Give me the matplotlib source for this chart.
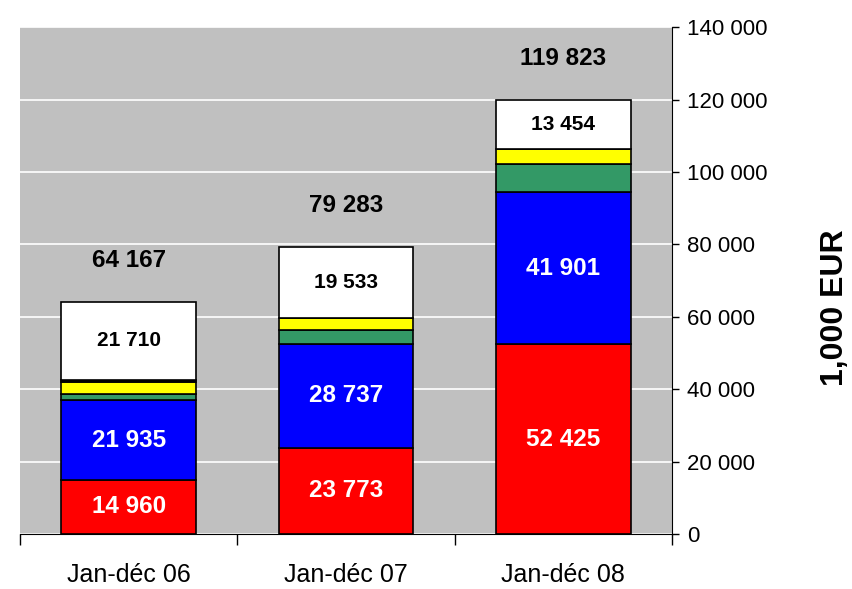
import numpy as np
import matplotlib
matplotlib.use("Agg")
import matplotlib.pyplot as plt
from matplotlib.ticker import FuncFormatter, MultipleLocator

plt.rcParams["font.family"] = ["Liberation Sans", "DejaVu Sans"]

categories = ["Jan-déc 06", "Jan-déc 07", "Jan-déc 08"]
red = [14960, 23773, 52425]
blue = [21935, 28737, 41901]
green = [1880, 3770, 7760]
yellow = [3090, 3470, 4283]
black = [592, 0, 0]
white = [21710, 19533, 13454]
totals = [64167, 79283, 119823]

layers = [(red, "#FF0000"), (blue, "#0000FF"), (green, "#339966"),
          (yellow, "#FFFF00"), (black, "#000000"), (white, "#FFFFFF")]


def fmt(v):
    return f"{v:,.0f}".replace(",", " ")


fig = plt.figure(figsize=(8.52, 5.89), dpi=100)
ax = fig.add_axes([0.0235, 0.0934, 0.765, 0.8606])
ax.set_facecolor("#C0C0C0")

x = np.arange(len(categories))
bottom = np.zeros(len(categories))
for vals, col in layers:
    v = np.array(vals, dtype=float)
    ax.bar(x, v, 0.62, bottom=bottom, color=col, edgecolor="black",
           linewidth=1.2, zorder=3)
    bottom += v

# étiquettes des segments + totaux
white_b = np.array(totals, dtype=float) - np.array(white)
for i in range(3):
    ax.text(x[i], red[i] / 2, fmt(red[i]), ha="center", va="center",
            color="white", fontsize=17.5, fontweight="bold", zorder=4)
    ax.text(x[i], red[i] + blue[i] / 2, fmt(blue[i]), ha="center", va="center",
            color="white", fontsize=17.5, fontweight="bold", zorder=4)
    ax.text(x[i], white_b[i] + white[i] / 2, fmt(white[i]), ha="center",
            va="center", color="black", fontsize=15, fontweight="bold", zorder=4)
    ax.text(x[i], totals[i] + 11500, fmt(totals[i]), ha="center", va="center",
            color="black", fontsize=17.5, fontweight="bold", zorder=4)

ax.set_xlim(-0.5, 2.5)
ax.set_ylim(0, 140000)
ax.yaxis.set_major_locator(MultipleLocator(20000))
ax.yaxis.set_major_formatter(FuncFormatter(lambda v, p: fmt(v)))
ax.yaxis.tick_right()
ax.grid(axis="y", color="white", linewidth=1.2, zorder=1)
ax.set_axisbelow(True)

ax.set_xticks([-0.5, 0.5, 1.5, 2.5])
ax.set_xticklabels([])
ax.set_xticks(x, minor=True)
ax.set_xticklabels(categories, minor=True, fontsize=18)
ax.tick_params(axis="x", which="major", direction="out", length=8, width=1)
ax.tick_params(axis="x", which="minor", length=0, pad=21)
ax.tick_params(axis="y", direction="out", length=5, width=1, labelsize=16, pad=6)

for s in ["left", "top"]:
    ax.spines[s].set_visible(False)

fig.text(835 / 852, 1 - 308 / 589, "1,000 EUR", rotation=90, ha="center",
         va="center", fontsize=23, fontweight="bold")

fig.savefig("out.png", dpi=100)
